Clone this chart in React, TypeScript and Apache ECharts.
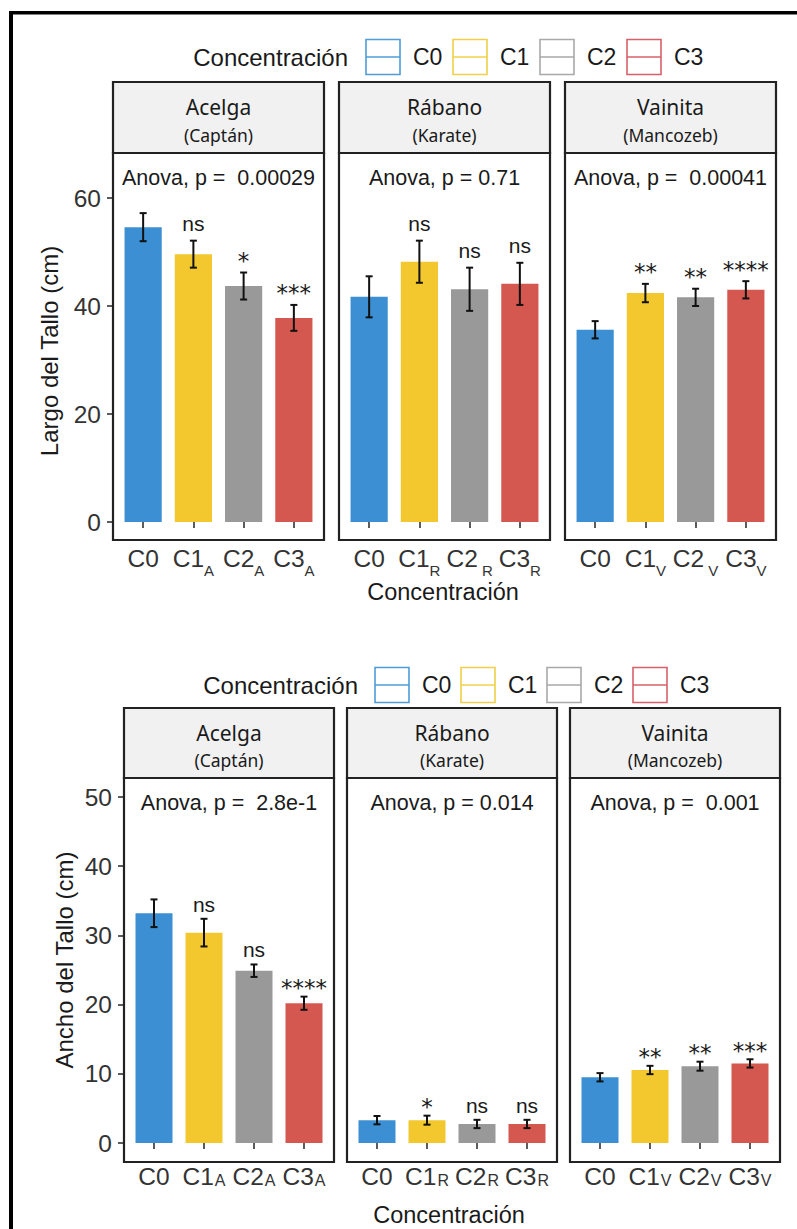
import React, { useEffect, useRef } from 'react';
import * as echarts from 'echarts';

// ---------- data ----------
const categories = ['C0', 'C1', 'C2', 'C3'];
const cropNames = ['Acelga', 'Rábano', 'Vainita'];
const pesticideNames = ['(Captán)', '(Karate)', '(Mancozeb)'];
const groupTitle = 'Concentración';
const barColors = ['#3b8fd2', '#f3c72e', '#999999', '#d45750'];
const legendColors = ['#4f9cd8', '#f0d048', '#a9a9a9', '#d8606a'];

// Largo del Tallo (cm)
const largoAcelga = [54.6, 49.6, 43.7, 37.8];
const largoAcelgaErr = [2.6, 2.5, 2.5, 2.4];
const largoAcelgaSig = ['', 'ns', '*', '***'];
const largoRabano = [41.7, 48.2, 43.1, 44.1];
const largoRabanoErr = [3.8, 3.9, 4.0, 3.9];
const largoRabanoSig = ['', 'ns', 'ns', 'ns'];
const largoVainita = [35.6, 42.4, 41.6, 43.0];
const largoVainitaErr = [1.6, 1.7, 1.6, 1.6];
const largoVainitaSig = ['', '**', '**', '****'];
const largoAnova = ['Anova, p =  0.00029', 'Anova, p = 0.71', 'Anova, p =  0.00041'];
const largoSubs = [['', 'A', 'A', 'A'], ['', 'R', ' R', 'R'], ['', 'V', ' V', 'V']];
const largoYTitle = 'Largo del Tallo (cm)';

// Ancho del Tallo (cm)
const anchoAcelga = [33.2, 30.4, 24.9, 20.2];
const anchoAcelgaErr = [2.0, 2.0, 0.9, 0.95];
const anchoAcelgaSig = ['', 'ns', 'ns', '****'];
const anchoRabano = [3.3, 3.3, 2.75, 2.75];
const anchoRabanoErr = [0.6, 0.65, 0.6, 0.6];
const anchoRabanoSig = ['', '*', 'ns', 'ns'];
const anchoVainita = [9.5, 10.55, 11.1, 11.5];
const anchoVainitaErr = [0.6, 0.6, 0.65, 0.6];
const anchoVainitaSig = ['', '**', '**', '***'];
const anchoAnova = ['Anova, p =  2.8e-1', 'Anova, p = 0.014', 'Anova, p =  0.001'];
const anchoSubs = [['', 'A', 'A', 'A'], ['', 'R', 'R', 'R'], ['', 'V', 'V', 'V']];
const anchoYTitle = 'Ancho del Tallo (cm)';

// ---------- layout ----------
const SANS = '"Liberation Sans", Arial, sans-serif';
const STRIP_FONT = '"Noto Sans", "Open Sans", sans-serif';

type Block = {
  means: number[][];
  errs: number[][];
  sigs: string[][];
  anova: string[];
  subs: string[][];
  yTitle: string;
  panelsX: number[][];
  stripTop: number;
  stripBottom: number;
  panelBottom: number;
  zeroY: number;
  maxY: number;
  yMax: number;
  interval: number;
  legendY: number;
  legendTitleRight: number;
  legendBoxX: number;
  legendStep: number;
  anovaY: number;
  yTitleX: number;
  yTitleY: number;
  xTitleX: number;
  xTitleY: number;
  cropY: number;
  pestY: number;
  labelMargin: number;
  subStyle: any;
  nsGap: number;
  starGap: number;
};

const blocks: Block[] = [
  {
    means: [largoAcelga, largoRabano, largoVainita],
    errs: [largoAcelgaErr, largoRabanoErr, largoVainitaErr],
    sigs: [largoAcelgaSig, largoRabanoSig, largoVainitaSig],
    anova: largoAnova,
    subs: largoSubs,
    yTitle: largoYTitle,
    panelsX: [[113, 324], [339, 550], [565, 776]],
    stripTop: 82,
    stripBottom: 153,
    panelBottom: 540,
    zeroY: 522,
    maxY: 198,
    yMax: 60,
    interval: 20,
    legendY: 57,
    legendTitleRight: 348,
    legendBoxX: 366,
    legendStep: 87,
    anovaY: 178,
    yTitleX: 49,
    yTitleY: 351,
    xTitleX: 443,
    xTitleY: 592,
    cropY: 107,
    pestY: 135,
    labelMargin: 6,
    subStyle: { fontSize: 15, color: '#333', fontFamily: SANS, verticalAlign: 'top', padding: [17, 0, 0, 0] },
    nsGap: 7,
    starGap: 0,
  },
  {
    means: [anchoAcelga, anchoRabano, anchoVainita],
    errs: [anchoAcelgaErr, anchoRabanoErr, anchoVainitaErr],
    sigs: [anchoAcelgaSig, anchoRabanoSig, anchoVainitaSig],
    anova: anchoAnova,
    subs: anchoSubs,
    yTitle: anchoYTitle,
    panelsX: [[124, 334], [347, 557], [570, 780]],
    stripTop: 708,
    stripBottom: 778,
    panelBottom: 1162,
    zeroY: 1143,
    maxY: 797,
    yMax: 50,
    interval: 10,
    legendY: 685,
    legendTitleRight: 358,
    legendBoxX: 375,
    legendStep: 86,
    anovaY: 803,
    yTitleX: 64,
    yTitleY: 960,
    xTitleX: 449,
    xTitleY: 1215,
    cropY: 733,
    pestY: 760,
    labelMargin: 2,
    subStyle: { fontSize: 16, color: '#333', fontFamily: SANS, verticalAlign: 'top', padding: [8, 0, 0, 1] },
    nsGap: 4,
    starGap: -3,
  },
];

function txt(x: number, y: number, text: string, font: string, align = 'center', extra: any = {}) {
  return {
    type: 'text',
    x,
    y,
    silent: true,
    ...extra,
    style: {
      text,
      font,
      fill: '#1a1a1a',
      align,
      verticalAlign: 'middle',
      textAlign: align,
      textVerticalAlign: 'middle',
    },
  };
}

function buildOption() {
  const grid: any[] = [];
  const xAxis: any[] = [];
  const yAxis: any[] = [];
  const series: any[] = [];
  const graphic: any[] = [];

  // outer frame (top and left edges)
  graphic.push({ type: 'rect', shape: { x: 9, y: 11, width: 788, height: 3.5 }, style: { fill: '#000' }, silent: true });
  graphic.push({ type: 'rect', shape: { x: 9, y: 11, width: 4, height: 1218 }, style: { fill: '#000' }, silent: true });

  let k = 0;
  blocks.forEach((b) => {
    // legend
    graphic.push(txt(b.legendTitleRight, b.legendY, groupTitle, `24px ${SANS}`, 'right'));
    categories.forEach((c, i) => {
      const bx = b.legendBoxX + i * b.legendStep;
      graphic.push({
        type: 'rect',
        shape: { x: bx, y: b.legendY - 17.5, width: 34, height: 35 },
        style: { fill: '#ffffff', stroke: legendColors[i], lineWidth: 1.6 },
        silent: true,
      });
      graphic.push({
        type: 'line',
        shape: { x1: bx, y1: b.legendY, x2: bx + 34, y2: b.legendY },
        style: { stroke: legendColors[i], lineWidth: 1.6 },
        silent: true,
      });
      graphic.push(txt(bx + 47, b.legendY, c, `23px ${SANS}`, 'left'));
    });

    // axis titles
    graphic.push(txt(b.yTitleX, b.yTitleY, b.yTitle, `24px ${SANS}`, 'center', { rotation: Math.PI / 2 }));
    graphic.push(txt(b.xTitleX, b.xTitleY, groupTitle, `23.5px ${SANS}`, 'center'));

    b.panelsX.forEach(([x0, x1], p) => {
      const w = x1 - x0;
      const unit = w / 4.2;
      const cx = (x0 + x1) / 2;
      // strip
      graphic.push({
        type: 'rect',
        shape: { x: x0, y: b.stripTop, width: w, height: b.stripBottom - b.stripTop },
        style: { fill: '#f1f1f1', stroke: '#222', lineWidth: 2.2 },
        silent: true,
      });
      graphic.push(txt(cx, b.cropY, cropNames[p], `21px ${STRIP_FONT}`, 'center'));
      graphic.push(txt(cx, b.pestY, pesticideNames[p], `17.5px ${STRIP_FONT}`, 'center'));
      // panel border
      graphic.push({
        type: 'rect',
        shape: { x: x0, y: b.stripBottom, width: w, height: b.panelBottom - b.stripBottom },
        style: { fill: 'none', stroke: '#222', lineWidth: 2.2 },
        silent: true,
        z: 10,
      });
      graphic.push(txt(cx, b.anovaY, b.anova[p], `21.5px ${SANS}`, 'center'));

      grid.push({
        left: x0 + 0.1 * unit,
        width: 4 * unit,
        top: b.maxY,
        height: b.zeroY - b.maxY,
        containLabel: false,
      });
      const subs = b.subs[p];
      xAxis.push({
        type: 'category',
        gridIndex: k,
        data: categories,
        offset: b.panelBottom - b.zeroY,
        axisLine: { show: false },
        axisTick: { show: true, alignWithLabel: true, length: 6, lineStyle: { color: '#333', width: 1.6 } },
        axisLabel: {
          interval: 0,
          margin: b.labelMargin,
          formatter: (value: string, idx: number) =>
            subs[idx] ? `{m|${value}}{s|${subs[idx]}}` : `{m|${value}}`,
          rich: {
            m: { fontSize: 24.5, color: '#333', fontFamily: SANS, lineHeight: 27, verticalAlign: 'top' },
            s: b.subStyle,
          },
        },
        splitLine: { show: false },
      });
      yAxis.push({
        type: 'value',
        gridIndex: k,
        min: 0,
        max: b.yMax,
        interval: b.interval,
        show: p === 0,
        offset: 0.1 * unit,
        axisLine: { show: false },
        axisTick: { show: true, length: 6, lineStyle: { color: '#333', width: 1.6 } },
        axisLabel: { fontSize: 24.5, color: '#333', fontFamily: SANS, margin: 12 },
        splitLine: { show: false },
      });

      const means = b.means[p];
      const errs = b.errs[p];
      const sigs = b.sigs[p];
      series.push({
        type: 'bar',
        xAxisIndex: k,
        yAxisIndex: k,
        data: means,
        barWidth: '74%',
        itemStyle: { color: (pr: any) => barColors[pr.dataIndex] },
        silent: true,
      });
      series.push({
        type: 'custom',
        xAxisIndex: k,
        yAxisIndex: k,
        data: means.map((m, i) => [i, m, errs[i]]),
        silent: true,
        z: 5,
        renderItem: (params: any, api: any) => {
          const i = api.value(0);
          const m = api.value(1);
          const e = api.value(2);
          const top = api.coord([i, m + e]);
          const bot = api.coord([i, m - e]);
          const x = top[0];
          const ls = { stroke: '#111', lineWidth: 2 };
          const children: any[] = [
            { type: 'line', shape: { x1: x, y1: top[1], x2: x, y2: bot[1] }, style: ls },
            { type: 'line', shape: { x1: x - 3.5, y1: top[1], x2: x + 3.5, y2: top[1] }, style: ls },
            { type: 'line', shape: { x1: x - 3.5, y1: bot[1], x2: x + 3.5, y2: bot[1] }, style: ls },
          ];
          const s = sigs[params.dataIndex];
          if (s) {
            const star = s.charAt(0) === '*';
            children.push({
              type: 'text',
              x: x,
              y: top[1] - (star ? b.starGap : b.nsGap),
              style: {
                text: s,
                font: star ? `23px "DejaVu Sans", sans-serif` : `21px ${SANS}`,
                fill: '#1a1a1a',
                align: 'center',
                verticalAlign: 'bottom',
                textAlign: 'center',
                textVerticalAlign: 'bottom',
              },
            });
          }
          return { type: 'group', children };
        },
      });
      k++;
    });
  });

  return {
    animation: false,
    backgroundColor: '#ffffff',
    textStyle: { fontFamily: SANS },
    grid,
    xAxis,
    yAxis,
    series,
    graphic: { elements: graphic },
  };
}

export default function App() {
  const ref = useRef<HTMLDivElement>(null);
  useEffect(() => {
    document.body.style.margin = '0';
    const chart = echarts.init(ref.current as HTMLDivElement, undefined, { renderer: 'svg' });
    chart.setOption(buildOption() as any);
    return () => chart.dispose();
  }, []);
  return <div ref={ref} style={{ width: 797, height: 1229 }} />;
}
